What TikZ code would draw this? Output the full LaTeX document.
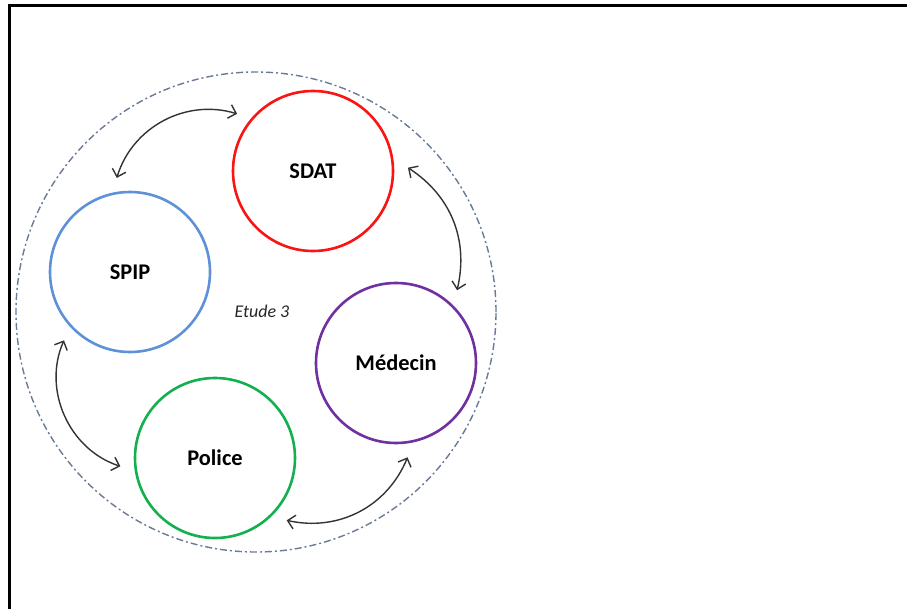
\documentclass[tikz,border=0pt]{standalone}
\usepackage{fontspec}
\setmainfont{Carlito}
\usepackage{tikz}
\usetikzlibrary{arrows.meta}
\definecolor{sdatred}{RGB}{250,20,20}
\definecolor{spipblue}{RGB}{95,145,215}
\definecolor{medpurple}{RGB}{112,48,160}
\definecolor{polgreen}{RGB}{20,176,80}
\definecolor{zonegray}{RGB}{105,122,150}

\begin{document}
\begin{tikzpicture}[
  actor/.style={draw,circle,line width=2.6bp,minimum size=160bp,inner sep=0pt,outer sep=15bp,font=\fontsize{22.5}{26}\selectfont\bfseries},
  link/.style={<->,>={Straight Barb[length=7bp,width=14bp]},line width=1.4bp,draw=black!80},
  zone/.style={draw=zonegray,circle,line width=1.4bp,minimum size=480bp,inner sep=0pt,dash pattern=on 7bp off 3bp on 2bp off 3bp}]
\useasboundingbox (0bp,0bp) rectangle (907bp,-609bp);
\draw [line width=3.8bp] (9.5bp,-612bp) -- (9.5bp,-5.5bp) -- (910bp,-5.5bp);
\node (zone) at (256bp,-312bp)[zone] {};
\node (etude) at (262bp,-311bp)[font=\fontsize{18}{21}\selectfont\itshape,text=black!85] {Etude 3};
\node (sdat) at (313bp,-171bp)[actor,draw=sdatred] {SDAT};
\node (spip) at (130bp,-272bp)[actor,draw=spipblue] {SPIP};
\node (medecin) at (396bp,-363bp)[actor,draw=medpurple] {Médecin};
\node (police) at (215bp,-458bp)[actor,draw=polgreen] {Police};
\draw [link] (sdat.143) to[bend right=45] (spip.98);
\draw [link] (sdat.2) to[bend left=35] (medecin.50);
\draw [link] (medecin.-83) to[bend left=40] (police.-41);
\draw [link] (spip.226) to[bend right=48] (police.185);
\end{tikzpicture}
\end{document}
